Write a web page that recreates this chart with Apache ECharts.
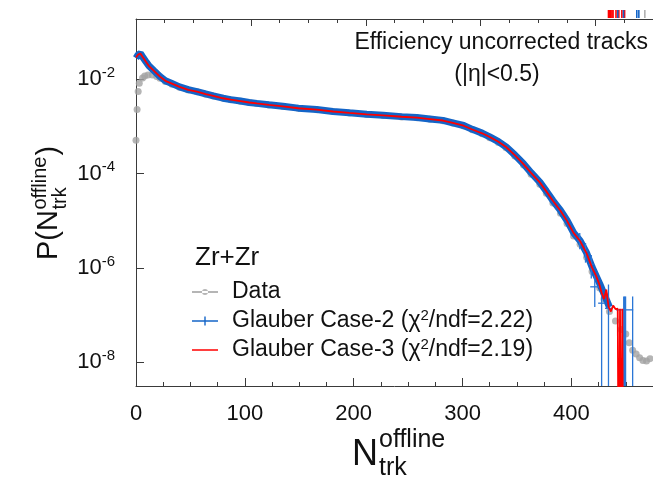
<!DOCTYPE html>
<html>
<head>
<meta charset="utf-8">
<script src="https://cdn.jsdelivr.net/npm/echarts@6/dist/echarts.min.js"></script>
<style>html,body{margin:0;padding:0;background:#fff}#c{width:653px;height:481px}</style>
</head>
<body>
<div id="c"></div>
<script>
// ---------- data ----------
const nModel = [0,2,3,4,6,9,12,17,22,27,33,40,48,56,64,71,80,87,96,104,111,122,135,149,166,181,196,212,227,244,258,270,282,291,301,309,318,325,333,340,348,356,363,371,377,383,390,396,402,408,414,419];
const case2P = [0.0282,0.0331,0.0363,0.0355,0.0302,0.0240,0.0191,0.0148,0.0115,0.00933,0.00813,0.00692,0.00603,0.00550,0.00490,0.00447,0.00398,0.00372,0.00347,0.00324,0.00309,0.00288,0.00269,0.00245,0.00229,0.00209,0.00195,0.00182,0.00174,0.00162,0.00155,0.00145,0.00135,0.00120,0.00105,8.71e-4,7.24e-4,6.03e-4,4.79e-4,3.72e-4,2.51e-4,1.62e-4,1.05e-4,6.61e-5,4.27e-5,2.69e-5,1.66e-5,1.02e-5,5.62e-6,3.80e-6,2.09e-6,1.05e-6];
const case3P = [0.0290,0.0335,0.0366,0.0352,0.0300,0.0239,0.0190,0.0148,0.0114,0.00930,0.00810,0.00690,0.00600,0.00548,0.00488,0.00446,0.00397,0.00371,0.00346,0.00323,0.00308,0.00287,0.00268,0.00244,0.00228,0.00208,0.00194,0.00181,0.00173,0.00161,0.00154,0.00144,0.00134,0.00119,0.00104,8.65e-4,7.18e-4,5.98e-4,4.75e-4,3.68e-4,2.48e-4,1.60e-4,1.04e-4,6.55e-5,4.22e-5,2.66e-5,1.64e-5,1.00e-5,5.55e-6,3.75e-6,2.05e-6,1.02e-6];
const case2TailN = [426,430,435];
const case2TailP = [4.68e-7,2.82e-7,1.48e-7];
const case3TailN = [422.5,425.7,427.8,430,432.1,434.2,436.3,438.4,440.5,442.6,443.7,444.7,445.8,446.8,447.9];
const case3TailP = [7.0e-7,4.5e-7,3.0e-7,2.2e-7,3.5e-7,1.5e-7,1.2e-7,1.6e-7,1.35e-7,1.38e-7,1e-12,1.38e-7,1e-12,1.38e-7,1e-12];
// Case-2 error bars in the tail
const case2ErrN  = [407.7,413,418.3,421.5,427.8,434.1,448.1,448.9,449.8,456.3];
const case2ErrP  = [3.8e-6,2.3e-6,1.2e-6,4.0e-7,1.8e-7,1.4e-7,2.5e-7,1.3e-7,2.5e-7,1.3e-7];
const case2ErrLo = [2.5e-6,1.3e-6,6e-7,1.5e-7,1e-12,1e-12,1e-12,1e-12,1e-12,1e-12];
const case2ErrHi = [5.5e-6,3.4e-6,1.9e-6,7.0e-7,3.5e-7,4.5e-7,2.5e-7,2.5e-7,2.5e-7,2.5e-7];
const case2ErrDx = [2.1,2.1,2.1,4.2,3.2,3.2,0,7.9,0,0];
// measured data (Zr+Zr)
const dataN = [0,1,2,3,6,8,11,15,19,22,27,33,40,48,56,64,71,80,87,96,104,111,122,135,149,166,181,196,212,227,244,258,270,282,291,301,309,318,325,333,340,348,356,363,371,377,383,390,396,402,408,414,419,426,430,435,440.5,445.8,450,453.2,456.3,459.5,462.7,465.8,469,472.2,475.3];
const dataP = [5.1e-4,2.3e-3,5.5e-3,8.3e-3,1.07e-2,1.17e-2,1.23e-2,1.23e-2,1.15e-2,1.05e-2,9.0e-3,7.9e-3,6.8e-3,5.95e-3,5.45e-3,4.85e-3,4.43e-3,3.95e-3,3.69e-3,3.44e-3,3.21e-3,3.06e-3,2.85e-3,2.66e-3,2.43e-3,2.27e-3,2.07e-3,1.93e-3,1.80e-3,1.72e-3,1.60e-3,1.53e-3,1.43e-3,1.33e-3,1.18e-3,1.03e-3,8.5e-4,7.0e-4,5.8e-4,4.6e-4,3.55e-4,2.38e-4,1.52e-4,9.7e-5,6.0e-5,3.85e-5,2.4e-5,1.45e-5,8.8e-6,4.8e-6,3.2e-6,1.7e-6,8.5e-7,3.8e-7,2.2e-7,1.2e-7,7.5e-8,5.0e-8,4.0e-8,2.6e-8,1.8e-8,1.5e-8,1.26e-8,1.1e-8,1.07e-8,1.2e-8,1.26e-8];
// error bars of tail points that run past the top of the frame
const overRedN  = [434.1,435.2,436.2,437.3,438.3,441,443.6,446.4,448.9];
const overBlueN = [442.6,447.9,460.1,462];
const overGrayN = [467.5];
// axes and labels
const xBottom = {min:0, max:475, step:100};
const xTop = {min:0, max:450, step:100};
const yLabelValues = [1e-8,1e-6,1e-4,1e-2];
const yRange = [Math.pow(10,-8.5), 0.19];
const chi2 = {'Glauber Case-2':'2.22','Glauber Case-3':'2.19'};

// ---------- chart ----------
const FONT = '"Liberation Sans", Arial, Helvetica, sans-serif';
const AX = '#3a3a3a';
const BLUE = '#1465c8', RED = '#ff0000', GRAY = '#a3a3a3';
const mctx = document.createElement('canvas').getContext('2d');
function tw(t, s){ mctx.font = s + 'px "Liberation Sans"'; return mctx.measureText(t).width; }

const zip = (a,b) => a.map((v,i)=>[v,b[i]]);
const blueData = zip(nModel.concat(case2TailN), case2P.concat(case2TailP));
const redData = zip(nModel.concat(case3TailN), case3P.concat(case3TailP));
const grayData = zip(dataN, dataP);
const errData = case2ErrN.map((n,i)=>[n, case2ErrP[i], case2ErrLo[i], case2ErrHi[i], case2ErrDx[i]]);
const overData = overRedN.map(n=>[n,0]).concat(overBlueN.map(n=>[n,1])).concat(overGrayN.map(n=>[n,2]));

// y-title (rotated) pieces
const yT = 29, yS = 20;
const wPN = tw('P(N', yT), wOff = tw('offline', yS);
// x-title pieces
const xT = 36, xS = 25;
const wN = tw('N', xT);

const chart = echarts.init(document.getElementById('c'), null, {renderer:'canvas'});
chart.setOption({
  animation: false,
  backgroundColor: '#fff',
  grid: {left: 136, right: 0, top: 19, bottom: 95, outerBoundsMode: 'none', containLabel: false},
  xAxis: [{
    type: 'value', min: xBottom.min, max: xBottom.max, interval: xBottom.step, position: 'bottom',
    axisLine: {show: true, onZero: false, lineStyle: {color: AX, width: 1}},
    axisTick: {show: true, inside: true, length: 8, lineStyle: {color: AX}},
    minorTick: {show: true, splitNumber: 4, length: 4, lineStyle: {color: AX}},
    splitLine: {show: false},
    axisLabel: {show: true, margin: 17, fontSize: 22, fontFamily: FONT, color: '#111', showMaxLabel: false}
  },{
    type: 'value', min: xTop.min, max: xTop.max, interval: xTop.step, position: 'top',
    axisLine: {show: true, onZero: false, lineStyle: {color: AX, width: 1}},
    axisTick: {show: true, inside: true, length: 7, lineStyle: {color: AX}},
    minorTick: {show: true, splitNumber: 4, length: 4, lineStyle: {color: AX}},
    splitLine: {show: false},
    axisLabel: {show: false}
  }],
  yAxis: {
    type: 'log', logBase: 10, min: yRange[0], max: yRange[1],
    axisLine: {show: true, onZero: false, lineStyle: {color: AX, width: 1}},
    axisTick: {show: true, inside: true, length: 8, lineStyle: {color: AX}, customValues: yLabelValues},
    minorTick: {show: false},
    splitLine: {show: false},
    axisLabel: {
      show: true, margin: 21, customValues: yLabelValues,
      formatter: v => '{b|10}{s|' + Math.round(Math.log10(v)) + '}',
      rich: {
        b: {fontSize: 22, fontFamily: FONT, color: '#111'},
        s: {fontSize: 15, fontFamily: FONT, color: '#111', padding: [0,0,13,0]}
      }
    }
  },
  legend: {
    orient: 'vertical', left: 187, top: 274, itemWidth: 26, itemHeight: 10, itemGap: 3,
    selectedMode: false,
    data: [
      {name: 'Data', icon: 'path://M0,0H0.01V0.01H0Z M25.99,9.99H26V10H25.99Z M0,4H26V6H0Z M10,5A3,3 0 1 0 16,5A3,3 0 1 0 10,5Z'},
      {name: 'Glauber Case-2', icon: 'path://M0,4.3H26V5.7H0Z M12.3,0.5H13.7V9.5H12.3Z M0,0H0.01V0.01H0Z M25.99,9.99H26V10H25.99Z'},
      {name: 'Glauber Case-3', icon: 'path://M0,4.3H26V5.7H0Z M0,0H0.01V0.01H0Z M25.99,9.99H26V10H25.99Z'}
    ],
    formatter: name => chi2[name] ? name + ' ({g|χ}{s|2}/ndf=' + chi2[name] + ')' : name,
    textStyle: {
      fontFamily: FONT, fontSize: 23, color: '#111', lineHeight: 26, padding: [0,0,0,9],
      rich: {
        g: {fontSize: 23, fontFamily: FONT, color: '#111', lineHeight: 26},
        s: {fontSize: 15, fontFamily: FONT, color: '#111', padding: [0,0,11,0]}
      }
    }
  },
  graphic: {elements: [
    {type: 'text', x: 648, y: 43, style: {text: 'Efficiency uncorrected tracks', align: 'right', verticalAlign: 'middle', font: '23px ' + FONT, fill: '#111'}},
    {type: 'text', x: 497, y: 75, style: {text: '(|η|<0.5)', align: 'center', verticalAlign: 'middle', font: '23px ' + FONT, fill: '#111'}},
    {type: 'text', x: 195, y: 258, style: {text: 'Zr+Zr', align: 'left', verticalAlign: 'middle', font: '26px ' + FONT, fill: '#111'}},
    {type: 'group', x: 49, y: 260, rotation: Math.PI/2, children: [
      {type: 'text', x: 0, y: 0, style: {text: 'P(N', align: 'left', verticalAlign: 'middle', font: yT + 'px ' + FONT, fill: '#111'}},
      {type: 'text', x: wPN + 0.5, y: -9, style: {text: 'offline', align: 'left', verticalAlign: 'middle', font: yS + 'px ' + FONT, fill: '#111'}},
      {type: 'text', x: wPN + 0.5, y: 11, style: {text: 'trk', align: 'left', verticalAlign: 'middle', font: yS + 'px ' + FONT, fill: '#111'}},
      {type: 'text', x: wPN + wOff + 1.5, y: 0, style: {text: ')', align: 'left', verticalAlign: 'middle', font: yT + 'px ' + FONT, fill: '#111'}}
    ]},
    {type: 'group', x: 352, y: 0, children: [
      {type: 'text', x: 0, y: 455, style: {text: 'N', align: 'left', verticalAlign: 'middle', font: xT + 'px ' + FONT, fill: '#111'}},
      {type: 'text', x: wN + 1, y: 440, style: {text: 'offline', align: 'left', verticalAlign: 'middle', font: xS + 'px ' + FONT, fill: '#111'}},
      {type: 'text', x: wN + 1, y: 468, style: {text: 'trk', align: 'left', verticalAlign: 'middle', font: xS + 'px ' + FONT, fill: '#111'}}
    ]}
  ]},
  series: [
    {
      name: 'Data', type: 'scatter', color: GRAY, data: grayData,
      symbol: 'circle', symbolSize: 7, itemStyle: {color: GRAY}, z: 1
    },
    {
      name: 'Glauber Case-2', type: 'line', color: BLUE, data: blueData,
      showSymbol: false, symbol: 'none', lineStyle: {color: BLUE, width: 7}, z: 2
    },
    {
      name: 'Glauber Case-2 errors', type: 'custom', data: errData, clip: true, z: 3, silent: true,
      renderItem: (params, api) => {
        const n = api.value(0), v = api.value(1), lo = api.value(2), hi = api.value(3), dx = api.value(4);
        const pl = api.coord([n, lo]), ph = api.coord([n, hi]);
        const a = api.coord([n - dx, v]), b = api.coord([n + dx, v]);
        const st = {stroke: '#2a76d6', lineWidth: 1.3};
        const ch = [{type: 'line', shape: {x1: pl[0], y1: pl[1], x2: ph[0], y2: ph[1]}, style: st}];
        if (dx > 0) ch.push({type: 'line', shape: {x1: a[0], y1: a[1], x2: b[0], y2: b[1]}, style: st});
        return {type: 'group', children: ch};
      }
    },
    {
      name: 'Glauber Case-3', type: 'line', color: RED, data: redData,
      showSymbol: false, symbol: 'none', lineStyle: {color: RED, width: 1.8}, z: 4
    },
    {
      name: 'over', type: 'custom', data: overData, clip: false, z: 5, silent: true,
      renderItem: (params, api) => {
        const p = api.coord([api.value(0), 1e-2]);
        const top = params.coordSys.y;
        const col = [RED, BLUE, '#b0b0b0'][api.value(1)];
        return {type: 'line', shape: {x1: p[0], y1: top - 9, x2: p[0], y2: top - 1}, style: {stroke: col, lineWidth: 1.6}};
      }
    }
  ]
});
</script>
</body>
</html>
